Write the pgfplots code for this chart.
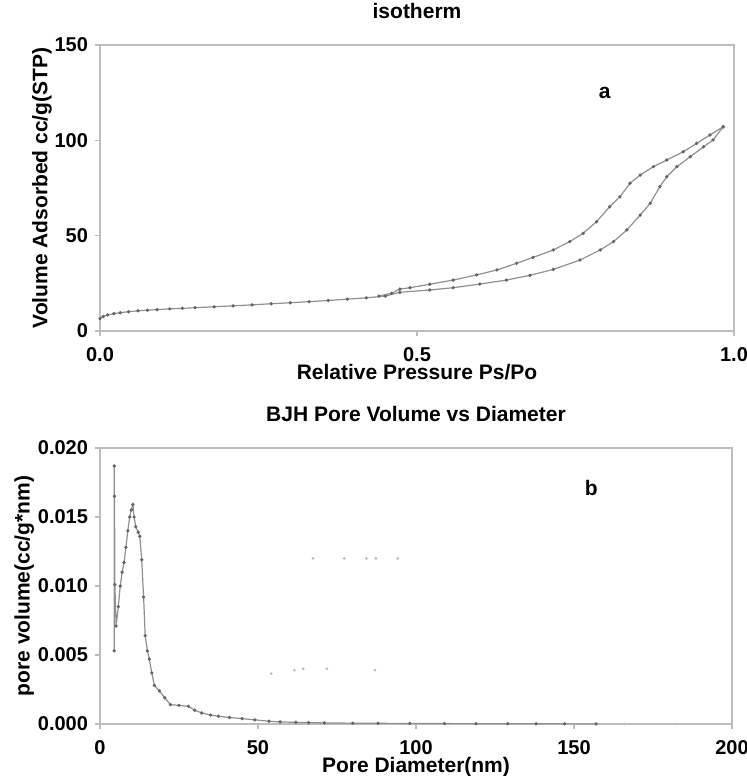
\documentclass[border=0pt]{standalone}
\usepackage{pgfplots}
\pgfplotsset{compat=1.18}
\usepackage{fontspec}
\setmainfont{Liberation Sans}
\definecolor{frame}{HTML}{BDBDBD}
\definecolor{curve}{HTML}{909090}
\definecolor{dot}{HTML}{666666}
\pgfplotsset{
  myline/.style={curve, line width=0.6pt, mark=*, mark size=0.5pt, mark options={draw=dot, fill=dot}},
  myaxis/.style={
    scale only axis,
    axis line style={frame, line width=1.1pt},
    tick style={frame, line width=0.6pt},
    tick align=outside,
    major tick length=2.5pt,
    xtick pos=bottom, ytick pos=left,
    /pgf/number format/assume math mode=true,
    tick label style={font=\fontsize{10}{12}\selectfont\bfseries},
    label style={font=\fontsize{10.5}{12}\selectfont\bfseries},
    title style={font=\fontsize{10.5}{12}\selectfont\bfseries, at={(axis description cs:0.5,1)}, anchor=center, yshift=11pt},
    xticklabel style={yshift=-2pt},
  }
}
\begin{document}
\begin{tikzpicture}
\useasboundingbox (0,0) rectangle (373.5pt,388pt);
\begin{axis}[myaxis,
  at={(50pt,222.5pt)}, anchor=south west,
  width=317pt, height=143pt,
  xmin=0, xmax=1, ymin=0, ymax=150,
  xtick={0,0.5,1}, ytick={0,50,100,150},
  xticklabel style={/pgf/number format/.cd, fixed, fixed zerofill, precision=1},
  title={isotherm},
  xlabel={Relative Pressure Ps/Po},
  ylabel={Volume Adsorbed cc/g(STP)},
  xlabel style={at={(axis description cs:0.5,0)}, anchor=center, yshift=-20.5pt},
  ylabel style={at={(axis description cs:-0.0915,0.5)}, anchor=center},
]
\addplot[myline] coordinates {
(0.000,6.5)(0.005,7.6)(0.012,8.4)(0.022,9.1)(0.032,9.6)(0.045,10.1)(0.06,10.6)(0.075,10.9)(0.09,11.2)(0.11,11.6)(0.13,11.9)(0.15,12.2)(0.18,12.7)(0.21,13.2)(0.24,13.7)(0.27,14.3)(0.30,14.8)(0.33,15.4)(0.36,16.0)(0.39,16.7)(0.42,17.4)(0.45,18.3)(0.473,20.3)
(0.52,21.5)(0.557,22.7)(0.599,24.6)(0.641,26.7)(0.678,29.2)(0.715,32.3)(0.757,37.2)(0.789,42.5)(0.81,46.9)(0.831,53)(0.852,60.8)(0.868,67)(0.883,75.7)(0.894,80.9)(0.91,86.2)(0.931,91.4)(0.952,96.6)(0.967,100.2)(0.983,107.1)
};
\addplot[myline] coordinates {
(0.983,107.1)(0.962,102.8)(0.941,98.4)(0.92,94)(0.894,89.7)(0.873,86.2)(0.852,81.8)(0.836,77.5)(0.82,70.4)(0.804,65.2)(0.783,57.3)(0.762,51.2)(0.741,46.9)(0.715,42.5)(0.683,38.6)(0.657,35.5)(0.626,32)(0.594,29.4)(0.557,26.7)(0.52,24.5)(0.489,22.7)(0.473,22)(0.46,19.8)(0.44,18.3)
};
\node[font=\fontsize{10.5}{12}\selectfont\bfseries] at (axis cs:0.796,124.7) {a};
\end{axis}

\begin{axis}[myaxis,
  at={(50pt,26pt)}, anchor=south west,
  width=316pt, height=138pt,
  xmin=0, xmax=200, ymin=0, ymax=0.02,
  xtick={0,50,100,150,200}, ytick={0,0.005,0.01,0.015,0.02},
  scaled y ticks=false,
  yticklabel style={/pgf/number format/.cd, fixed, fixed zerofill, precision=3},
  title={BJH Pore Volume vs Diameter},
  xlabel={Pore Diameter(nm)},
  ylabel={pore volume(cc/g*nm)},
  xlabel style={at={(axis description cs:0.5,0)}, anchor=center, yshift=-21.5pt},
  ylabel style={at={(axis description cs:-0.12,0.5)}, anchor=center},
]
\addplot[myline] coordinates {
(4.5,0.0187)(4.5,0.0053)(4.6,0.0165)(4.7,0.0101)(5.1,0.0071)(5.8,0.0085)(6.4,0.0100)(7.0,0.0110)(7.6,0.0117)(8.2,0.0128)(8.8,0.0140)(9.4,0.0150)(9.9,0.0155)(10.4,0.0159)(10.8,0.0150)(11.3,0.0143)(12.1,0.0139)(12.6,0.0136)(13.2,0.0119)(13.8,0.0092)(14.3,0.0064)(15.0,0.0053)(15.6,0.0047)(16.4,0.0037)(17.2,0.0028)(18.8,0.0024)(20.5,0.0019)(22.3,0.0014)(25,0.00135)(28,0.00128)(30,0.0010)(32.2,0.0008)(35,0.00065)(37.5,0.00056)(41,0.00047)(45,0.00039)(49,0.0003)(53.5,0.0002)(57,0.00015)(62,0.00012)(66,0.0001)(71,0.00008)(80,0.00006)(88,0.00005)(98,0.00004)(109,0.00003)(119,0.000025)(129,0.00002)(138,0.000015)(147,0.00001)(157,0.00001)
};
\addplot[only marks, mark=*, mark size=0.5pt, mark options={draw=gray!50, fill=gray!50}] coordinates {
(67.4,0.0120)(77.3,0.0120)(84.3,0.0120)(87.3,0.0120)(94.2,0.0120)
(54.2,0.00365)(61.5,0.0039)(64.3,0.0040)(71.8,0.0040)(87,0.0039)
(166,0)(182,0)
};
\node[font=\fontsize{10.5}{12}\selectfont\bfseries] at (axis cs:155.5,0.0171) {b};
\end{axis}
\end{tikzpicture}
\end{document}
